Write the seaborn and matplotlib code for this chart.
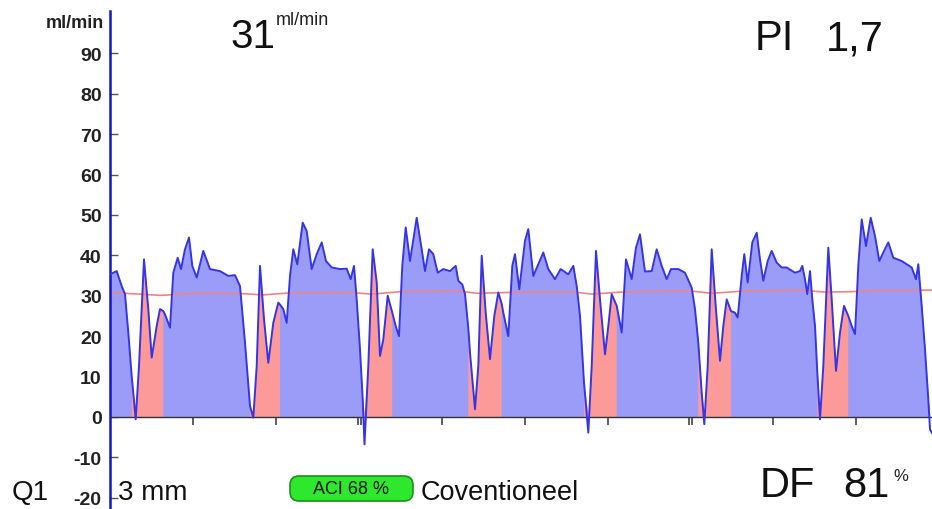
import numpy as np
import matplotlib.pyplot as plt
import seaborn as sns
from matplotlib.patches import FancyBboxPatch
from matplotlib.transforms import IdentityTransform

sns.set_style("white")
plt.rcParams['font.family'] = ['Liberation Sans', 'DejaVu Sans']

# Flow waveform (time in screen samples, flow in ml/min)
time = [110, 116.7, 121.7, 125, 128.3, 131.7, 135.7, 139, 144, 148.3, 151.7, 156.7, 160, 163.3, 165, 170,
        173.3, 177.7, 181, 185, 189, 192.3, 196.7, 203.3, 210, 220, 228.3, 235, 240,
        245, 250, 253.3, 256.7, 260, 264, 268.3, 273.3, 278.3, 280, 283.3, 286.7, 290, 293.3, 297.3,
        302.7, 306.7, 311.7, 316.7, 321.7, 326, 331.7, 340, 346.7, 350.7, 354, 356.7, 360, 362.7,
        364.5, 368.3, 372.7, 376.7,
        380, 383.3, 387.7, 392.3, 395.7, 399, 402.3, 405.7, 410, 416.7, 421.7, 425, 429, 433.3, 437.7,
        443.3, 450, 455.7, 458.3, 462.3, 465, 468.3, 470, 475, 478.3, 481.7, 485.7, 490, 494.3, 498.3,
        501.7, 503.3, 508.3, 512.3,
        515, 519.3, 525, 528.3, 533.3, 538.3, 543.3, 548.3, 555, 560.7, 568.3, 573.3, 576.7, 580, 584,
        588.3, 591.7, 596, 600, 605, 608.3, 611.7, 616.7, 621.7, 626, 631.7, 636, 640, 645, 651.7,
        656.7, 661.7, 666.7, 671, 678.3, 685, 691.7, 695, 698.3, 701.7, 704.3, 707.7, 711.7, 715.7, 720,
        723.3, 726.7, 731, 735, 737.7, 741.7, 744.3, 747.7, 752.3, 756.7, 760, 763.3, 767.7, 771.7,
        776.7, 781.7,
        786.7, 795, 800, 802.3, 805, 807.3, 810, 812.3, 815, 817.3, 820, 823.3, 828.3, 831.7, 836, 840,
        844, 848.3, 851.7, 855, 858.3, 861.7, 866, 870.7, 875, 879.3, 884, 888.3, 893.3, 901.7, 911.7,
        916, 918.3, 921.7, 925, 928.3, 930, 932]
flow = [35.3, 36.1, 32.4, 30.4, 20.9, 10.1, -0.6, 12.6, 39, 26.7, 14.7, 22.5, 26.7, 26.2, 25.4, 22.1,
        35.7, 39.4, 36.6, 41.5, 44.4, 37.4, 34.5, 41.1, 36.6, 36.1, 34.9, 35.1, 32.4,
        18.4, 2.7, -0.2, 12.6, 37.4, 24.2, 13.4, 23.3, 28.3, 27.8, 26.7, 23.3, 34.9, 41.5, 37.8,
        48.1, 46, 36.6, 40.3, 43.2, 38.6, 37, 36.6, 36.7, 34.1, 37.4, 29.1, 16.7, 4.4,
        -6.8, 12.6, 41.5, 33.3,
        15.1, 19.2, 30, 25.8, 22.5, 20, 37.4, 46.9, 38.6, 49.3, 41.5, 36.1, 41.5, 40.3, 35.7,
        36.6, 36.1, 37.4, 33.7, 32.8, 30.4, 22, 15.9, 1.9, 12.6, 39.9, 25.8, 14.3, 25, 30.8,
        28, 25.8, 20, 37.4,
        40.3, 31.6, 43.6, 46.5, 34.9, 37.8, 40.7, 36.6, 34.1, 36.6, 35.3, 37.4, 32.4, 25, 8.5,
        -3.9, 12.6, 41.1, 29.1, 15.5, 22.5, 30.4, 27.5, 20.9, 39, 34.1, 41.9, 45.2, 36, 36.1,
        41.5, 37.4, 34.1, 36.6, 36.6, 35.7, 32, 26.7, 18.4, 6, -1.8, 12.6, 41.5, 27.5, 13.9,
        22.5, 29.1, 26.2, 25.8, 24.6, 34.9, 40.3, 33.3, 43.2, 45.6, 39, 33.7, 38.6, 41.1,
        38.2, 37,
        37, 35.7, 36.1, 37.4, 34.1, 30.4, 36.1, 29.1, 22.5, 11, -0.6, 12.6, 41.9, 29.1, 11.4, 20.9,
        27.5, 25, 22.5, 20.5, 37.4, 48.9, 42.3, 49.3, 44.8, 38.6, 41.1, 43.2, 39.4, 38.6, 37,
        34.1, 37.8, 27.5, 16.7, 4.4, -3.1, -4]

# Mean flow trace
mean_time = [110, 140, 160, 200, 245, 262, 290, 350, 372, 400, 460, 478, 520, 575, 592, 620,
             690, 712, 740, 800, 825, 850, 880, 932]
mean_flow = [30.8, 30.4, 30.1, 30.6, 30.5, 30.2, 30.7, 30.8, 30.4, 31.0, 31.1, 30.6, 30.9, 30.9,
             30.4, 30.9, 31.2, 30.6, 31.1, 31.4, 30.9, 31.0, 31.3, 31.4]

# Segments drawn in red (start, end)
red_start = [131.7, 250, 362.7, 468.3, 584, 698.3, 817.3]
red_end = [163.3, 280, 392.3, 501.7, 616.7, 731, 848.3]

x_ticks = [193, 276, 358, 361, 442, 525, 608, 689, 692, 773, 856]
y_ticks = list(range(-20, 100, 10))

t = np.array(time)
q = np.array(flow)
q_pos = np.clip(q, 0, None)
red_mask = np.zeros(len(t), dtype=bool)
for s, e in zip(red_start, red_end):
    red_mask |= (t >= s) & (t <= e)

fig = plt.figure(figsize=(9.32, 5.10), dpi=100)
ax = fig.add_axes([110 / 932, 0, 822 / 932, 498 / 510])

ax.fill_between(t, 0, q_pos, color='#9b9bf8', lw=0, zorder=1)
ax.fill_between(t, 0, q_pos, where=red_mask, color='#fc9a9a', lw=0, zorder=1.1)
sns.lineplot(x=mean_time, y=mean_flow, ax=ax, color='#f08484', lw=1.2, zorder=2)
sns.lineplot(x=time, y=flow, ax=ax, color='#3535e6', lw=1.4, zorder=3)

ax.set_xlim(110, 932)
ax.set_ylim(-22.8, 100.5)
ax.set_xlabel('')
ax.set_ylabel('')

ax.spines['top'].set_visible(False)
ax.spines['right'].set_visible(False)
ax.spines['bottom'].set_position(('data', 0))
ax.spines['bottom'].set_color('#333333')
ax.spines['bottom'].set_linewidth(1.0)
ax.spines['left'].set_color('#1414c8')
ax.spines['left'].set_linewidth(1.8)

ax.set_xticks(x_ticks)
ax.set_xticklabels([])
ax.tick_params(axis='x', direction='inout', length=12, width=1.1, color='#333333', bottom=True)
ax.set_yticks(y_ticks)
ax.set_yticklabels([str(v) for v in y_ticks], fontsize=14, fontweight='bold', color='#222222')
ax.tick_params(axis='y', direction='in', length=6, width=1.0, color='#555555', pad=6, left=True)
ax.grid(False)


def px_text(x, y, s, **kw):
    fig.text(x / 932, 1 - y / 510, s, **kw)


px_text(104, 28, 'ml/min', ha='right', va='baseline', fontsize=13, fontweight='bold', color='#222222')
px_text(230, 48, '31', ha='left', va='baseline', fontsize=29, color='#111111')
px_text(276, 25, 'ml/min', ha='left', va='baseline', fontsize=13, color='#222222')
px_text(755, 50, 'PI', ha='left', va='baseline', fontsize=30, color='#111111')
px_text(826, 50, '1,7', ha='left', va='baseline', fontsize=30, color='#111111')
px_text(760, 497, 'DF', ha='left', va='baseline', fontsize=30, color='#111111')
px_text(843, 497, '81', ha='left', va='baseline', fontsize=30, color='#111111')
px_text(893, 481, '%', ha='left', va='baseline', fontsize=12, color='#222222')
px_text(12, 500, 'Q1', ha='left', va='baseline', fontsize=20, color='#111111')
px_text(118, 500, '3 mm', ha='left', va='baseline', fontsize=20, color='#111111')
px_text(421, 500, 'Coventioneel', ha='left', va='baseline', fontsize=19.5, color='#111111')

box = FancyBboxPatch((290, 510 - 502), 123, 25, boxstyle='round,pad=0,rounding_size=9',
                     transform=IdentityTransform(), fc='#2de82d', ec='#1d8f1d', lw=1.2)
fig.patches.append(box)
px_text(351, 490, 'ACI 68 %', ha='center', va='center', fontsize=13,
        family=['Liberation Sans Narrow', 'Liberation Sans'], color='#111111')

fig.savefig('out.png', dpi=100)
